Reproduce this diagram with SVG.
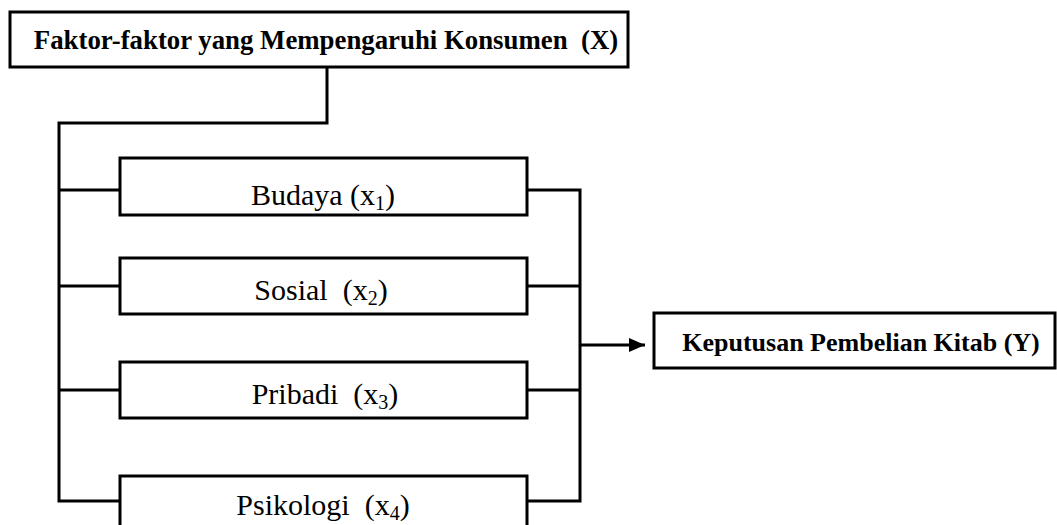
<svg xmlns="http://www.w3.org/2000/svg" width="1057" height="525" viewBox="0 0 1057 525">
<defs>
<style>
.box{fill:#fff;stroke:#000;stroke-width:3}
.ln{fill:none;stroke:#000;stroke-width:3}
.b{font-family:"Liberation Serif","Times New Roman",serif;font-weight:bold;font-size:26px;fill:#000}
.t{font-size:26.8px}
.r{font-family:"Liberation Serif","Times New Roman",serif;font-size:30px;fill:#000}
.s{font-size:20px}
</style>
<marker id="ah" markerWidth="16" markerHeight="14" refX="16" refY="7" orient="auto" markerUnits="userSpaceOnUse" viewBox="0 0 16 14">
<path d="M0,0 L16,7 L0,14 z" fill="#000"/>
</marker>
</defs>
<g id="connectors">
<polyline class="ln" points="327,67 327,123 59,123 59,501 120,501"/>
<line class="ln" x1="59" y1="190" x2="120" y2="190"/>
<line class="ln" x1="59" y1="286" x2="120" y2="286"/>
<line class="ln" x1="59" y1="390" x2="120" y2="390"/>
<polyline class="ln" points="527,190 580,190 580,501 527,501"/>
<line class="ln" x1="527" y1="286" x2="580" y2="286"/>
<line class="ln" x1="527" y1="390" x2="580" y2="390"/>
<line class="ln" x1="580" y1="345" x2="645" y2="345" marker-end="url(#ah)"/>
</g>
<g id="nodeX">
<rect class="box" x="10" y="12" width="618" height="55"/>
<text class="b t" x="326" y="49" text-anchor="middle" xml:space="preserve">Faktor-faktor yang Mempengaruhi Konsumen  (X)</text>
</g>
<g id="nodeX1">
<rect class="box" x="120" y="158" width="407" height="57"/>
<text class="r" x="323" y="205" text-anchor="middle">Budaya (x<tspan class="s" dy="5">1</tspan><tspan dy="-5">)</tspan></text>
</g>
<g id="nodeX2">
<rect class="box" x="120" y="258" width="407" height="56"/>
<text class="r" x="321" y="300" text-anchor="middle" xml:space="preserve">Sosial  (x<tspan class="s" dy="5">2</tspan><tspan dy="-5">)</tspan></text>
</g>
<g id="nodeX3">
<rect class="box" x="120" y="362" width="407" height="56"/>
<text class="r" x="325" y="404" text-anchor="middle" xml:space="preserve">Pribadi  (x<tspan class="s" dy="5">3</tspan><tspan dy="-5">)</tspan></text>
</g>
<g id="nodeX4">
<rect class="box" x="120" y="476" width="407" height="60"/>
<text class="r" x="323" y="515" text-anchor="middle" xml:space="preserve">Psikologi  (x<tspan class="s" dy="5">4</tspan><tspan dy="-5">)</tspan></text>
</g>
<g id="nodeY">
<rect class="box" x="654" y="313" width="401" height="55"/>
<text class="b" x="861" y="351" text-anchor="middle">Keputusan Pembelian Kitab (Y)</text>
</g>
</svg>
